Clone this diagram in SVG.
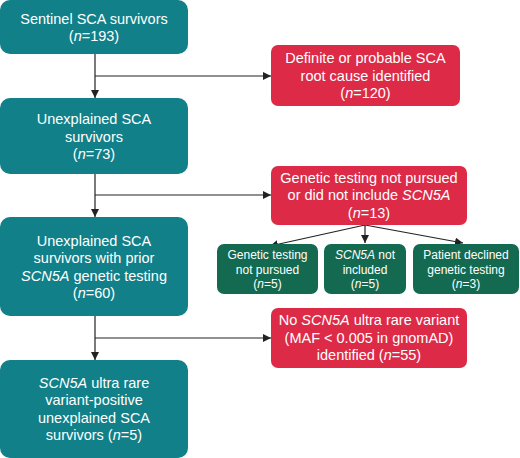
<svg xmlns="http://www.w3.org/2000/svg" width="520" height="458" viewBox="0 0 520 458">
<style>
text{font-family:"Liberation Sans",Arial,sans-serif;fill:#fff;text-anchor:middle}
.t{font-size:14.5px}
.s{font-size:12px}
.teal{fill:#118089}
.red{fill:#dd2a47}
.green{fill:#146a50}
.c{stroke:#222;stroke-width:1.2;fill:none}
</style>
<defs>
<marker id="ah" viewBox="0 0 10 10" refX="10" refY="5" markerWidth="8" markerHeight="8" markerUnits="userSpaceOnUse" orient="auto">
<path d="M0,0 L10,5 L0,10 z" fill="#222"/>
</marker>
</defs>
<rect width="520" height="458" fill="#fff"/>
<g id="connectors">
<path class="c" d="M95,54 V98" marker-end="url(#ah)"/>
<path class="c" d="M95,76 H271" marker-end="url(#ah)"/>
<path class="c" d="M95,174 V217" marker-end="url(#ah)"/>
<path class="c" d="M95,195 H271" marker-end="url(#ah)"/>
<path class="c" d="M95,316 V360" marker-end="url(#ah)"/>
<path class="c" d="M95,338 H271" marker-end="url(#ah)"/>
<path class="c" d="M365,225 L270,246" marker-end="url(#ah)"/>
<path class="c" d="M365,225 V243" marker-end="url(#ah)"/>
<path class="c" d="M365,225 L463,243" marker-end="url(#ah)"/>
</g>
<g id="n1">
<rect class="teal" x="0" y="0" width="188" height="54" rx="10"/>
<text class="t" x="94" y="23.5">Sentinel SCA survivors</text>
<text class="t" x="94" y="41">(<tspan font-style="italic">n</tspan>=193)</text>
</g>
<g id="n2">
<rect class="teal" x="0" y="98" width="188" height="76" rx="10"/>
<text class="t" x="94" y="124">Unexplained SCA</text>
<text class="t" x="94" y="141.5">survivors</text>
<text class="t" x="94" y="159">(<tspan font-style="italic">n</tspan>=73)</text>
</g>
<g id="n3">
<rect class="teal" x="0" y="217" width="188" height="99" rx="10"/>
<text class="t" x="94" y="245.5">Unexplained SCA</text>
<text class="t" x="94" y="263">survivors with prior</text>
<text class="t" x="94" y="280.5"><tspan font-style="italic">SCN5A</tspan> genetic testing</text>
<text class="t" x="94" y="298">(<tspan font-style="italic">n</tspan>=60)</text>
</g>
<g id="n4">
<rect class="teal" x="0" y="360" width="188" height="98" rx="10"/>
<text class="t" x="94" y="387.5"><tspan font-style="italic">SCN5A</tspan> ultra rare</text>
<text class="t" x="94" y="405">variant-positive</text>
<text class="t" x="94" y="422.5">unexplained SCA</text>
<text class="t" x="94" y="440">survivors (<tspan font-style="italic">n</tspan>=5)</text>
</g>
<g id="r1">
<rect class="red" x="271" y="45" width="189" height="61" rx="7"/>
<text class="t" x="365.5" y="63">Definite or probable SCA</text>
<text class="t" x="365.5" y="80.5">root cause identified</text>
<text class="t" x="365.5" y="98">(<tspan font-style="italic">n</tspan>=120)</text>
</g>
<g id="r2">
<rect class="red" x="271" y="166" width="196" height="59" rx="7"/>
<text class="t" x="369" y="182.5">Genetic testing not pursued</text>
<text class="t" x="369" y="200">or did not include <tspan font-style="italic">SCN5A</tspan></text>
<text class="t" x="369" y="217.5">(<tspan font-style="italic">n</tspan>=13)</text>
</g>
<g id="g1">
<rect class="green" x="217" y="244" width="101" height="50" rx="7"/>
<text class="s" x="267.5" y="259">Genetic testing</text>
<text class="s" x="267.5" y="273.5">not pursued</text>
<text class="s" x="267.5" y="288">(<tspan font-style="italic">n</tspan>=5)</text>
</g>
<g id="g2">
<rect class="green" x="324" y="244" width="82" height="50" rx="7"/>
<text class="s" x="365" y="259"><tspan font-style="italic">SCN5A</tspan> not</text>
<text class="s" x="365" y="273.5">included</text>
<text class="s" x="365" y="288">(<tspan font-style="italic">n</tspan>=5)</text>
</g>
<g id="g3">
<rect class="green" x="413" y="244" width="106" height="50" rx="7"/>
<text class="s" x="466" y="259">Patient declined</text>
<text class="s" x="466" y="273.5">genetic testing</text>
<text class="s" x="466" y="288">(<tspan font-style="italic">n</tspan>=3)</text>
</g>
<g id="r3">
<rect class="red" x="271" y="308" width="196" height="60" rx="7"/>
<text class="t" x="369" y="325"><tspan>No </tspan><tspan font-style="italic">SCN5A</tspan><tspan> ultra rare variant</tspan></text>
<text class="t" x="369" y="342.5">(MAF &lt; 0.005 in gnomAD)</text>
<text class="t" x="369" y="360">identified (<tspan font-style="italic">n</tspan>=55)</text>
</g>
</svg>
